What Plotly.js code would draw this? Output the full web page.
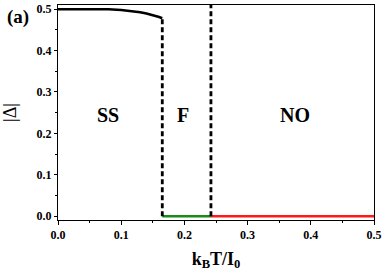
<!DOCTYPE html>
<html><head><meta charset="utf-8">
<script src="https://cdn.plot.ly/plotly-3.0.1.min.js"></script>
<style>html,body{margin:0;padding:0;background:#fff}</style>
</head><body>
<div id="chart" style="width:390px;height:279px"></div>
<script>
// SS phase order parameter curve
var ssT = [0.0, 0.02, 0.04, 0.06, 0.08, 0.10, 0.12, 0.13, 0.14, 0.15, 0.16, 0.165];
var ssDelta = [0.5, 0.5, 0.5, 0.5, 0.4995, 0.498, 0.4955, 0.4925, 0.4895, 0.486, 0.481, 0.478];
// F phase (zero)
var fT = [0.165, 0.242];
var fDelta = [0, 0];
// NO phase (zero)
var noT = [0.242, 0.5];
var noDelta = [0, 0];
// Phase boundaries
var boundaryT = [0.165, 0.242];
var boundaryTop = [0.478, 0.51];
// Region labels
var regionNames = ["SS", "F", "NO"];
var regionT = [0.079, 0.198, 0.375];
var regionY = [0.244, 0.244, 0.244];
// Tick labels
var tickVals = [0, 0.1, 0.2, 0.3, 0.4, 0.5];
var tickText = ["0.0", "0.1", "0.2", "0.3", "0.4", "0.5"];
var minorVals = [0.05, 0.15, 0.25, 0.35, 0.45];

var font = "Liberation Serif";
var boldTicks = tickText.map(function(t){ return "<b>" + t + "</b>"; });
var traces = [
  {x: ssT, y: ssDelta, mode: "lines", line: {color: "#000", width: 2.5}},
  {x: fT, y: fDelta, mode: "lines", line: {color: "#1a8a1a", width: 2.5}},
  {x: noT, y: noDelta, mode: "lines", line: {color: "#ff1a1a", width: 2.5}},
  {x: [boundaryT[0], boundaryT[0]], y: [0, boundaryTop[0]], mode: "lines", line: {color: "#000", width: 2.8, dash: "5px,3px"}},
  {x: [boundaryT[1], boundaryT[1]], y: [0, boundaryTop[1]], mode: "lines", line: {color: "#000", width: 2.8, dash: "5px,3px"}}
];
var annotations = regionNames.map(function(n, i){
  return {x: regionT[i], y: regionY[i], xref: "x", yref: "y", text: "<b>" + n + "</b>", showarrow: false,
    font: {family: font, size: 20, color: "#000"}};
});
annotations.push({xref: "paper", yref: "paper", x: -0.128, y: 0.944, xanchor: "center", yanchor: "middle",
  text: "<b>(a)</b>", showarrow: false, font: {family: font, size: 19, color: "#000"}});

var layout = {
  width: 390, height: 279,
  margin: {l: 58, r: 16, t: 5, b: 59},
  paper_bgcolor: "#fff", plot_bgcolor: "#fff",
  showlegend: false,
  xaxis: {
    range: [0, 0.5], tickvals: tickVals, ticktext: boldTicks,
    ticks: "outside", ticklen: 4, tickwidth: 1, tickcolor: "#000",
    minor: {tickvals: minorVals, ticks: "outside", ticklen: 2, tickcolor: "#000"},
    showline: true, linecolor: "#000", linewidth: 1, mirror: true, showgrid: false, zeroline: false,
    tickfont: {family: font, size: 12, color: "#000"},
    title: {text: "<b>k<sub>B</sub>T/I<sub>0</sub></b>", font: {family: font, size: 18, color: "#000"}, standoff: 10}
  },
  yaxis: {
    range: [-0.009, 0.51], tickvals: tickVals, ticktext: boldTicks,
    ticks: "outside", ticklen: 3, tickwidth: 1, tickcolor: "#000",
    minor: {tickvals: minorVals, ticks: "outside", ticklen: 2, tickcolor: "#000"},
    showline: true, linecolor: "#000", linewidth: 1, mirror: true, showgrid: false, zeroline: false,
    tickfont: {family: font, size: 12, color: "#000"},
    title: {text: "|Δ|", font: {family: font, size: 18, color: "#000"}, standoff: 20}
  },
  annotations: annotations
};
Plotly.newPlot("chart", traces, layout, {staticPlot: true, displayModeBar: false});
</script>
</body></html>
